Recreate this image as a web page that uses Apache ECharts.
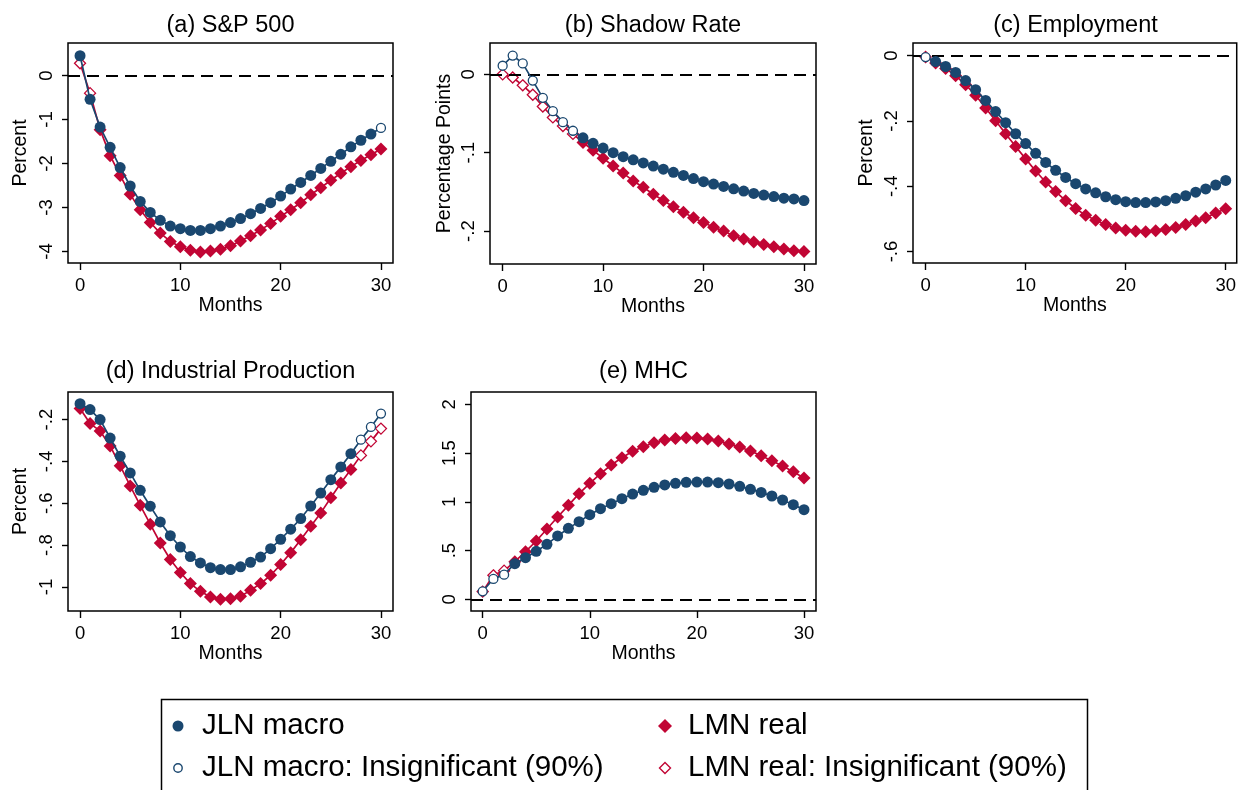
<!DOCTYPE html>
<html>
<head>
<meta charset="utf-8">
<script src="https://cdn.jsdelivr.net/npm/echarts@6/dist/echarts.min.js"></script>
<style>
html,body{margin:0;padding:0;background:#fff;}
#chart{width:1239px;height:790px;}
</style>
</head>
<body>
<div id="chart"></div>
<script>
// ---------- DATA ----------
const months = [0,1,2,3,4,5,6,7,8,9,10,11,12,13,14,15,16,17,18,19,20,21,22,23,24,25,26,27,28,29,30];
const xTicks = [0,10,20,30];

const titles = ['(a) S&P 500','(b) Shadow Rate','(c) Employment','(d) Industrial Production','(e) MHC'];
const yNames = ['Percent','Percentage Points','Percent','Percent',''];
const xName = 'Months';
const seriesNames = ['JLN macro','LMN real','JLN macro: Insignificant (90%)','LMN real: Insignificant (90%)'];

// (a) S&P 500
const jlnA = [0.45,-0.54,-1.17,-1.63,-2.09,-2.51,-2.86,-3.11,-3.29,-3.42,-3.48,-3.52,-3.52,-3.48,-3.42,-3.34,-3.25,-3.14,-3.02,-2.89,-2.74,-2.58,-2.43,-2.27,-2.11,-1.95,-1.79,-1.62,-1.47,-1.33,-1.19];
const lmnA = [0.28,-0.40,-1.23,-1.82,-2.27,-2.70,-3.05,-3.34,-3.58,-3.77,-3.89,-3.97,-4.01,-3.99,-3.95,-3.87,-3.76,-3.64,-3.51,-3.36,-3.20,-3.05,-2.89,-2.71,-2.55,-2.38,-2.22,-2.07,-1.93,-1.80,-1.67];
const jlnInsigA = [30];
const lmnInsigA = [0,1];
const yTicksA = [0,-1,-2,-3,-4];

// (b) Shadow Rate
const jlnB = [0.011,0.024,0.014,-0.008,-0.030,-0.047,-0.061,-0.072,-0.081,-0.088,-0.094,-0.100,-0.105,-0.109,-0.113,-0.117,-0.121,-0.125,-0.129,-0.133,-0.137,-0.140,-0.143,-0.146,-0.149,-0.152,-0.154,-0.156,-0.158,-0.159,-0.161];
const lmnB = [0,-0.004,-0.014,-0.026,-0.041,-0.055,-0.066,-0.076,-0.087,-0.097,-0.107,-0.117,-0.126,-0.136,-0.144,-0.153,-0.161,-0.169,-0.176,-0.183,-0.189,-0.195,-0.200,-0.206,-0.210,-0.214,-0.217,-0.220,-0.223,-0.225,-0.226];
const jlnInsigB = [0,1,2,3,4,5,6,7];
const lmnInsigB = [0,1,2,3,4,5,6,7];
const yTicksB = [0,-0.1,-0.2];

// (c) Employment
const jlnC = [-0.004,-0.018,-0.033,-0.051,-0.076,-0.104,-0.137,-0.171,-0.205,-0.239,-0.269,-0.299,-0.327,-0.351,-0.373,-0.392,-0.408,-0.420,-0.432,-0.441,-0.447,-0.450,-0.450,-0.448,-0.444,-0.437,-0.429,-0.418,-0.408,-0.396,-0.382];
const lmnC = [-0.004,-0.022,-0.039,-0.061,-0.089,-0.121,-0.160,-0.199,-0.239,-0.278,-0.316,-0.353,-0.387,-0.416,-0.444,-0.468,-0.489,-0.504,-0.517,-0.528,-0.535,-0.538,-0.539,-0.536,-0.532,-0.526,-0.517,-0.506,-0.496,-0.482,-0.469];
const jlnInsigC = [0];
const lmnInsigC = [0];
const yTicksC = [0,-0.2,-0.4,-0.6];

// (d) Industrial Production
const jlnD = [-0.124,-0.152,-0.200,-0.288,-0.375,-0.455,-0.538,-0.614,-0.689,-0.755,-0.809,-0.855,-0.885,-0.908,-0.917,-0.917,-0.904,-0.882,-0.857,-0.817,-0.772,-0.724,-0.673,-0.613,-0.551,-0.487,-0.426,-0.363,-0.296,-0.235,-0.171];
const lmnD = [-0.147,-0.219,-0.254,-0.326,-0.420,-0.517,-0.610,-0.700,-0.790,-0.869,-0.931,-0.984,-1.021,-1.048,-1.059,-1.057,-1.045,-1.016,-0.984,-0.944,-0.893,-0.836,-0.774,-0.710,-0.646,-0.574,-0.503,-0.439,-0.371,-0.304,-0.243];
const jlnInsigD = [28,29,30];
const lmnInsigD = [28,29,30];
const yTicksD = [-0.2,-0.4,-0.6,-0.8,-1];

// (e) MHC
const jlnE = [0.082,0.209,0.253,0.366,0.427,0.492,0.564,0.650,0.728,0.797,0.868,0.930,0.981,1.032,1.080,1.118,1.149,1.173,1.190,1.200,1.203,1.203,1.197,1.183,1.159,1.128,1.097,1.060,1.019,0.971,0.920];
const lmnE = [0.079,0.246,0.294,0.386,0.489,0.598,0.721,0.844,0.964,1.084,1.190,1.289,1.378,1.453,1.518,1.566,1.607,1.634,1.651,1.658,1.655,1.644,1.624,1.593,1.562,1.521,1.474,1.422,1.368,1.309,1.244];
const jlnInsigE = [0,1,2];
const lmnInsigE = [0,1,2];
const yTicksE = [0,0.5,1,1.5,2];

// ---------- LAYOUT / STYLE ----------
const NAVY = '#1a476f';
const RED = '#c10534';
const FONT = '"Liberation Sans", Arial, Helvetica, sans-serif';

const panelData = [
  {jln: jlnA, lmn: lmnA, ji: jlnInsigA, li: lmnInsigA, yt: yTicksA},
  {jln: jlnB, lmn: lmnB, ji: jlnInsigB, li: lmnInsigB, yt: yTicksB},
  {jln: jlnC, lmn: lmnC, ji: jlnInsigC, li: lmnInsigC, yt: yTicksC},
  {jln: jlnD, lmn: lmnD, ji: jlnInsigD, li: lmnInsigD, yt: yTicksD},
  {jln: jlnE, lmn: lmnE, ji: jlnInsigE, li: lmnInsigE, yt: yTicksE}
];
const layout = [
  {left:68,  top:43,  width:325, height:220, xr:[-1.2,31.2],  yr:[-4.26,0.74],   nameGap:37, titleTop:14},
  {left:490, top:43,  width:326, height:221, xr:[-1.26,31.2], yr:[-0.242,0.040], nameGap:35, titleTop:14},
  {left:913, top:43,  width:325, height:220, xr:[-1.26,31.1], yr:[-0.635,0.039], nameGap:36, titleTop:14},
  {left:68,  top:392, width:325, height:219, xr:[-1.2,31.2],  yr:[-1.115,-0.068],nameGap:37, titleTop:360},
  {left:471, top:392, width:345, height:219, xr:[-1.09,31.12],yr:[-0.12,2.127],  nameGap:37, titleTop:360}
];

function fmt(v){
  let s = String(+Number(v).toFixed(4));
  s = s.replace(/^(-?)0\./, '$1.');
  return s;
}

const grids = [], xAxes = [], yAxes = [], series = [], titleOpts = [];
panelData.forEach((p, i) => {
  const L = layout[i];
  grids.push({left:L.left, top:L.top, width:L.width, height:L.height, show:true,
    borderColor:'#000', borderWidth:1.5, backgroundColor:'#fff', containLabel:false});
  titleOpts.push({text:titles[i], left:L.left + L.width/2, top:L.titleTop, textAlign:'center', padding:0,
    textStyle:{fontFamily:FONT, fontSize:23.5, fontWeight:'normal', color:'#000'}});
  xAxes.push({type:'value', gridIndex:i, min:L.xr[0], max:L.xr[1],
    axisLine:{show:false, onZero:false}, splitLine:{show:false},
    axisTick:{show:true, customValues:xTicks, length:7, lineStyle:{color:'#000', width:1.4}},
    axisLabel:{customValues:xTicks, fontFamily:FONT, fontSize:18.5, color:'#000', margin:13, formatter:fmt},
    name:xName, nameLocation:'middle', nameGap:30,
    nameTextStyle:{fontFamily:FONT, fontSize:19.5, color:'#000'}});
  yAxes.push({type:'value', gridIndex:i, min:L.yr[0], max:L.yr[1],
    axisLine:{show:false, onZero:false}, splitLine:{show:false},
    axisTick:{show:true, customValues:p.yt, length:6, lineStyle:{color:'#000', width:1.4}},
    axisLabel:{customValues:p.yt, rotate:90, fontFamily:FONT, fontSize:18.5, color:'#000', margin:12, formatter:fmt},
    name:yNames[i], nameLocation:'middle', nameGap:L.nameGap,
    nameTextStyle:{fontFamily:FONT, fontSize:19.5, color:'#000'}});

  const pts = arr => months.map((m, j) => [m, arr[j]]);
  const sig = (arr, ins) => months.filter(m => ins.indexOf(m) < 0).map(m => [m, arr[m]]);
  const insig = (arr, ins) => months.filter(m => ins.indexOf(m) >= 0).map(m => [m, arr[m]]);

  // LMN line (with zero reference line)
  series.push({type:'line', xAxisIndex:i, yAxisIndex:i, data:pts(p.lmn), symbol:'none', silent:true,
    lineStyle:{color:RED, width:1.7}, z:3,
    markLine:{silent:true, symbol:'none', label:{show:false}, animation:false,
      lineStyle:{color:'#000', type:[12,7], width:1.8}, data:[{yAxis:0}]}});
  series.push({type:'scatter', name:seriesNames[1], xAxisIndex:i, yAxisIndex:i, data:sig(p.lmn, p.li),
    symbol:'diamond', symbolSize:13, itemStyle:{color:RED, opacity:1}, z:4, silent:true});
  series.push({type:'scatter', name:seriesNames[3], xAxisIndex:i, yAxisIndex:i, data:insig(p.lmn, p.li),
    symbol:'diamond', symbolSize:11, itemStyle:{color:'#fff', borderColor:RED, borderWidth:1.3, opacity:1}, z:4, silent:true});
  // JLN line
  series.push({type:'line', xAxisIndex:i, yAxisIndex:i, data:pts(p.jln), symbol:'none', silent:true,
    lineStyle:{color:NAVY, width:1.7}, z:5});
  series.push({type:'scatter', name:seriesNames[0], xAxisIndex:i, yAxisIndex:i, data:sig(p.jln, p.ji),
    symbol:'circle', symbolSize:11, itemStyle:{color:NAVY, opacity:1}, z:6, silent:true});
  series.push({type:'scatter', name:seriesNames[2], xAxisIndex:i, yAxisIndex:i, data:insig(p.jln, p.ji),
    symbol:'circle', symbolSize:9, itemStyle:{color:'#fff', borderColor:NAVY, borderWidth:1.3, opacity:1}, z:6, silent:true});
});

// Legend drawn as graphic (box partially cut at bottom like reference)
const LF = {fontFamily:FONT, fontSize:29.5, fill:'#000'};
const graphic = [
  {type:'rect', shape:{x:161.5, y:699.5, width:926, height:140}, style:{fill:'#fff', stroke:'#000', lineWidth:1.5}, z:10},
  {type:'circle', shape:{cx:178, cy:726, r:5.5}, style:{fill:NAVY}, z:11},
  {type:'text', x:202, y:726, style:Object.assign({text:seriesNames[0], verticalAlign:'middle'}, LF), z:11},
  {type:'circle', shape:{cx:178, cy:768, r:4.2}, style:{fill:'#fff', stroke:NAVY, lineWidth:1.4}, z:11},
  {type:'text', x:202, y:768, style:Object.assign({text:seriesNames[2], verticalAlign:'middle'}, LF), z:11},
  {type:'polygon', shape:{points:[[665,719],[672,726],[665,733],[658,726]]}, style:{fill:RED}, z:11},
  {type:'text', x:688, y:726, style:Object.assign({text:seriesNames[1], verticalAlign:'middle'}, LF), z:11},
  {type:'polygon', shape:{points:[[665,762.5],[670.5,768],[665,773.5],[659.5,768]]}, style:{fill:'#fff', stroke:RED, lineWidth:1.4}, z:11},
  {type:'text', x:688, y:768, style:Object.assign({text:seriesNames[3], verticalAlign:'middle'}, LF), z:11}
];

const chart = echarts.init(document.getElementById('chart'), null, {renderer:'canvas'});
chart.setOption({
  animation:false,
  backgroundColor:'#fff',
  textStyle:{fontFamily:FONT},
  title:titleOpts,
  grid:grids,
  xAxis:xAxes,
  yAxis:yAxes,
  series:series,
  graphic:graphic
});
</script>
</body>
</html>
